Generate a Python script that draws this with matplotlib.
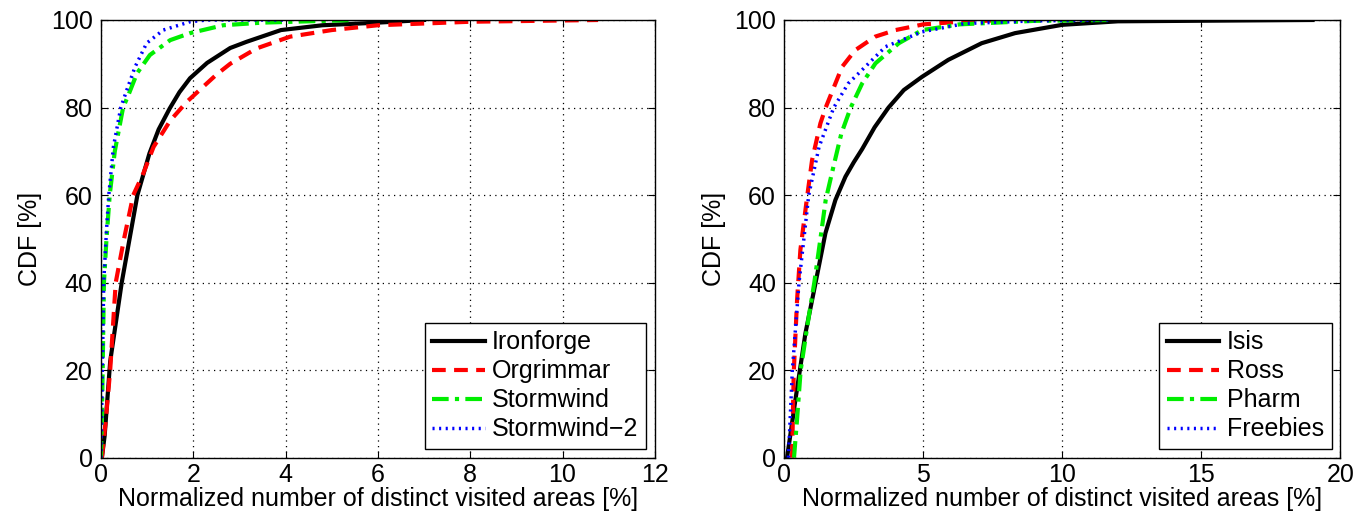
import matplotlib
matplotlib.use("Agg")
import matplotlib.pyplot as plt

plt.rcParams['font.family'] = ['Liberation Sans', 'DejaVu Sans']

# ---- Left panel data ----
left_labels = ["Ironforge", "Orgrimmar", "Stormwind", "Stormwind\u22122"]
ironforge_x = [0.02, 0.08, 0.2, 0.45, 0.79, 1.05, 1.25, 1.49, 1.7, 1.93, 2.3, 2.8, 3.15, 3.9, 4.8, 6.0, 7.0]
ironforge_y = [0, 5, 22, 40, 60, 69.5, 75, 79.8, 83.5, 86.7, 90.2, 93.6, 95, 97.7, 98.8, 99.4, 100]
orgrimmar_x = [0.02, 0.1, 0.2, 0.32, 0.5, 0.7, 0.92, 1.14, 1.5, 1.86, 2.22, 2.5, 2.8, 3.37, 4.1, 5.0, 6.0, 8.0, 10.77]
orgrimmar_y = [0, 8, 20, 40, 50, 60, 65, 71, 77, 81.3, 84.8, 87.5, 90, 93.5, 96.2, 97.7, 98.8, 99.6, 100]
stormwind_x = [0.0, 0.03, 0.065, 0.12, 0.19, 0.3, 0.48, 0.6, 0.78, 1.06, 1.5, 1.93, 2.65, 3.5, 5.5]
stormwind_y = [0, 15, 40, 50, 60, 70, 80, 83, 87.8, 92, 95.4, 97, 98.8, 99.4, 100]
stormwind2_x = [0.0, 0.03, 0.06, 0.12, 0.17, 0.27, 0.43, 0.56, 0.74, 0.99, 1.35, 1.93, 2.3, 4.0]
stormwind2_y = [0, 20, 40, 52, 60, 71, 80, 84, 89.3, 94.7, 97.7, 99.6, 100, 100]
left_xticks = [0, 2, 4, 6, 8, 10, 12]

# ---- Right panel data ----
right_labels = ["Isis", "Ross", "Pharm", "Freebies"]
isis_x = [0.1, 0.4, 0.76, 1.12, 1.48, 1.84, 2.2, 2.5, 2.8, 3.25, 3.75, 4.3, 4.95, 5.9, 7.1, 8.3, 10, 12, 19]
isis_y = [0, 13.2, 28.4, 39.8, 51.3, 58.9, 64.2, 67.5, 70.5, 75.5, 80, 84, 87, 90.9, 94.7, 97, 98.9, 99.7, 100]
ross_x = [0.28, 0.34, 0.46, 0.58, 0.83, 1.0, 1.3, 1.49, 2.08, 2.55, 3.27, 4.0, 5.0, 6.3, 8.0]
ross_y = [0, 19.3, 36, 47.5, 60, 68, 76.4, 80, 89.3, 93.1, 96.2, 97.7, 99, 99.6, 100]
pharm_x = [0.35, 0.45, 0.59, 0.88, 1.08, 1.3, 1.49, 1.75, 2.05, 2.39, 2.8, 3.28, 4.12, 4.96, 6.3, 9.0, 11.7]
pharm_y = [0, 8, 20, 32.2, 40, 50, 58.9, 66, 74, 80, 85.5, 90.1, 94.7, 97.7, 99, 99.8, 100]
freebies_x = [0.15, 0.29, 0.53, 0.88, 1.25, 1.78, 2.3, 2.8, 3.64, 4.96, 6.5, 9.0, 11.7]
freebies_y = [0, 20, 40, 60, 71, 80, 85.5, 88.6, 93.9, 97.3, 99.2, 99.8, 100]
right_xticks = [0, 5, 10, 15, 20]

yticks = [0, 20, 40, 60, 80, 100]

styles = [
    dict(color="black", linestyle="-", linewidth=3.0),
    dict(color="#ff0000", linestyle=(0, (3.3, 2.0)), linewidth=3.0),
    dict(color="#00ee00", linestyle=(0, (4, 1.5, 1, 1.5)), linewidth=3.0),
    dict(color="#0000ff", linestyle=(0, (0.6, 1.3)), linewidth=2.5),
]

FS = 18

fig = plt.figure(figsize=(13.55, 5.18), dpi=100)
ax1 = fig.add_axes([0.0745, 0.1164, 0.4088, 0.845])
ax2 = fig.add_axes([0.5788, 0.1164, 0.4104, 0.845])

def setup(ax, xlim, xticks, series, labels):
    for (xs, ys), st, lab in zip(series, styles, labels):
        ax.plot(xs, ys, label=lab, **st)
    ax.set_xlim(*xlim)
    ax.set_ylim(0, 100)
    ax.set_xticks(xticks)
    ax.set_yticks(yticks)
    ax.grid(True, color="black", linestyle=(0, (1, 3.5)), linewidth=0.9)
    ax.tick_params(direction="in", length=5, top=True, right=True, labelsize=FS)
    ax.tick_params(axis="x", pad=4)
    ax.tick_params(axis="y", pad=6)
    for sp in ax.spines.values():
        sp.set_linewidth(1.0)
    ax.set_xlabel("Normalized number of distinct visited areas [%]", fontsize=FS, labelpad=0)
    ax.set_ylabel("CDF [%]", fontsize=FS, labelpad=6)
    leg = ax.legend(loc="lower right", fontsize=FS, frameon=True, fancybox=False,
                    edgecolor="black", framealpha=1, handlelength=2.1,
                    handletextpad=0.3, labelspacing=0.2, borderaxespad=0.35,
                    borderpad=0.3)
    leg.get_frame().set_linewidth(1.0)

setup(ax1, (0, 12), left_xticks,
      [(ironforge_x, ironforge_y), (orgrimmar_x, orgrimmar_y),
       (stormwind_x, stormwind_y), (stormwind2_x, stormwind2_y)], left_labels)
setup(ax2, (0, 20), right_xticks,
      [(isis_x, isis_y), (ross_x, ross_y), (pharm_x, pharm_y),
       (freebies_x, freebies_y)], right_labels)

fig.savefig("out.png", dpi=100)
